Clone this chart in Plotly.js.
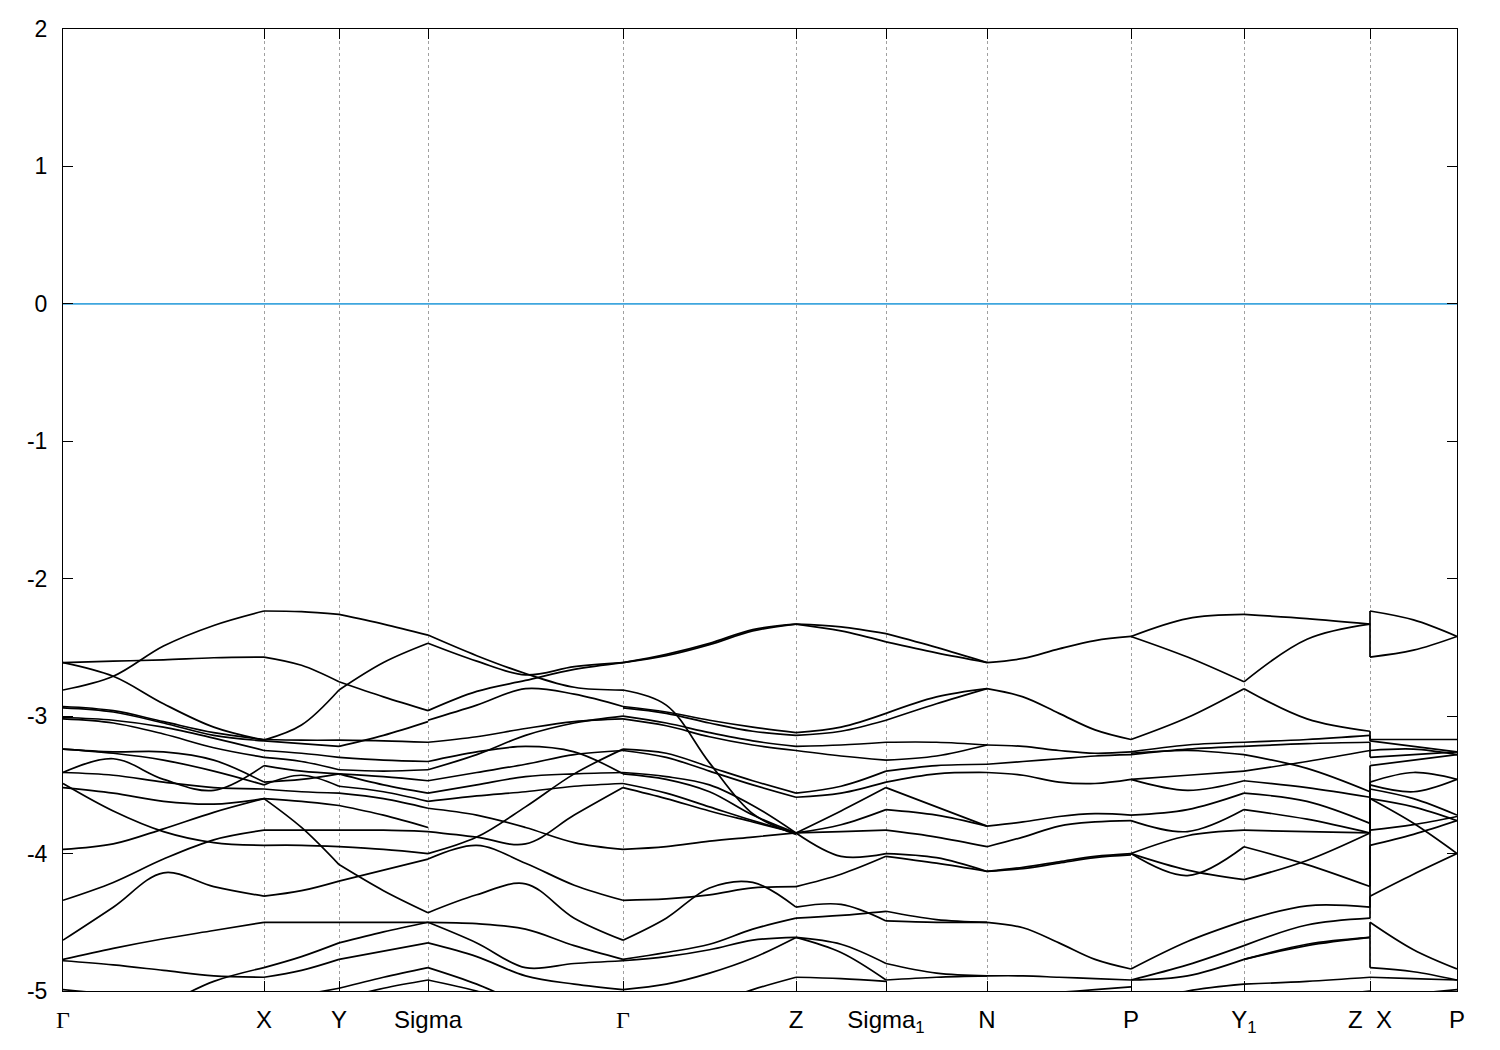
<!DOCTYPE html>
<html><head><meta charset="utf-8">
<script src="https://cdn.plot.ly/plotly-3.0.1.min.js"></script>
<style>html,body{margin:0;padding:0;background:#fff}#chart{width:1500px;height:1050px}</style>
</head><body><div id="chart"></div>
<script>
// High-symmetry points along the k-path (path distance, arbitrary units) and their labels
const kPoints = [0, 201, 276, 365, 560, 733, 823, 924, 1068, 1181, 1307, 1394];
const GAMMA = '<span style="font-family:Liberation Serif, DejaVu Serif, serif">Γ</span>';
const kLabels = [GAMMA, 'X', 'Y', 'Sigma', GAMMA, 'Z', 'Sigma<sub>1</sub>', 'N', 'P', 'Y<sub>1</sub>', 'Z\u00A0\u00A0X', 'P'];
const yTickValues = [-5, -4, -3, -2, -1, 0, 1, 2];
const yTickLabels = ['-5', '-4', '-3', '-2', '-1', '0', '1', '2'];
const fermiLevel = 0;

// Band energies (eV), each curve sampled evenly along its segment
const seg_GX = [
  [-2.81, -2.71, -2.49, -2.34, -2.235],
  [-2.61, -2.60, -2.59, -2.575, -2.57],
  [-2.61, -2.71, -2.91, -3.08, -3.175],
  [-2.93, -2.96, -3.04, -3.12, -3.17],
  [-2.94, -2.97, -3.05, -3.14, -3.18],
  [-3.01, -3.03, -3.08, -3.16, -3.25],
  [-3.02, -3.05, -3.13, -3.23, -3.30],
  [-3.24, -3.26, -3.26, -3.32, -3.48],
  [-3.24, -3.27, -3.32, -3.40, -3.50],
  [-3.41, -3.31, -3.46, -3.54, -3.36],
  [-3.41, -3.43, -3.48, -3.52, -3.53],
  [-3.49, -3.69, -3.84, -3.92, -3.94],
  [-3.52, -3.56, -3.62, -3.64, -3.60],
  [-3.97, -3.93, -3.82, -3.70, -3.60],
  [-4.34, -4.21, -4.04, -3.90, -3.83],
  [-4.63, -4.39, -4.14, -4.24, -4.31],
  [-4.77, -4.69, -4.62, -4.56, -4.50],
  [-4.78, -4.81, -4.85, -4.89, -4.90],
  [-5.40, -5.25, -5.10, -4.93, -4.83],
  [-4.99, -5.03, -5.10, -5.20, -5.30]
];
const seg_XY = [
  [-2.235, -2.24, -2.26],
  [-2.57, -2.63, -2.75],
  [-3.175, -3.065, -2.81],
  [-3.17, -3.175, -3.175],
  [-3.18, -3.20, -3.22],
  [-3.25, -3.27, -3.30],
  [-3.30, -3.33, -3.39],
  [-3.36, -3.40, -3.42],
  [-3.48, -3.46, -3.42],
  [-3.50, -3.43, -3.51],
  [-3.53, -3.55, -3.56],
  [-3.60, -3.62, -3.65],
  [-3.60, -3.81, -4.08],
  [-3.83, -3.83, -3.83],
  [-3.94, -3.94, -3.95],
  [-4.31, -4.27, -4.20],
  [-4.50, -4.50, -4.50],
  [-4.83, -4.75, -4.65],
  [-4.90, -4.85, -4.77],
  [-5.08, -5.03, -4.98]
];
const seg_YS = [
  [-2.26, -2.33, -2.41],
  [-2.81, -2.61, -2.47],
  [-2.75, -2.86, -2.96],
  [-3.175, -3.18, -3.19],
  [-3.22, -3.14, -3.04],
  [-3.30, -3.32, -3.33],
  [-3.39, -3.40, -3.39],
  [-3.42, -3.50, -3.56],
  [-3.42, -3.44, -3.47],
  [-3.51, -3.55, -3.62],
  [-3.56, -3.60, -3.67],
  [-3.65, -3.72, -3.81],
  [-4.08, -4.27, -4.43],
  [-3.83, -3.83, -3.84],
  [-3.95, -3.97, -4.00],
  [-4.20, -4.12, -4.04],
  [-4.50, -4.50, -4.50],
  [-4.65, -4.57, -4.50],
  [-4.77, -4.71, -4.65],
  [-4.98, -4.90, -4.83],
  [-5.06, -4.98, -4.92]
];
const seg_SG = [
  [-2.41, -2.56, -2.69, -2.79, -2.81],
  [-2.47, -2.60, -2.70, -2.64, -2.61],
  [-2.96, -2.82, -2.74, -2.66, -2.61],
  [-3.03, -2.92, -2.80, -2.84, -2.93],
  [-3.19, -3.15, -3.09, -3.04, -3.02],
  [-3.33, -3.26, -3.22, -3.26, -3.42],
  [-3.39, -3.28, -3.14, -3.05, -3.00],
  [-3.47, -3.41, -3.35, -3.28, -3.25],
  [-3.56, -3.50, -3.44, -3.42, -3.41],
  [-3.62, -3.58, -3.55, -3.51, -3.49],
  [-3.67, -3.72, -3.81, -3.92, -3.97],
  [-3.84, -3.88, -3.93, -3.72, -3.52],
  [-4.00, -3.88, -3.66, -3.42, -3.24],
  [-4.04, -3.94, -4.07, -4.23, -4.34],
  [-4.43, -4.30, -4.22, -4.47, -4.63],
  [-4.50, -4.51, -4.55, -4.67, -4.77],
  [-4.50, -4.65, -4.83, -4.80, -4.78],
  [-4.65, -4.75, -4.89, -4.95, -4.99],
  [-4.83, -4.95, -5.10, -5.20, -5.30],
  [-4.92, -5.00, -5.10, -5.20, -5.30]
];
const seg_GZ = [
  [-2.61, -2.55, -2.47, -2.37, -2.33],
  [-2.61, -2.56, -2.48, -2.38, -2.33],
  [-2.81, -2.92, -3.34, -3.71, -3.86],
  [-2.93, -2.97, -3.03, -3.08, -3.12],
  [-2.94, -2.98, -3.05, -3.11, -3.14],
  [-3.00, -3.05, -3.12, -3.18, -3.22],
  [-3.02, -3.07, -3.15, -3.21, -3.25],
  [-3.24, -3.27, -3.37, -3.47, -3.56],
  [-3.25, -3.30, -3.40, -3.50, -3.59],
  [-3.41, -3.44, -3.50, -3.65, -3.85],
  [-3.42, -3.46, -3.55, -3.72, -3.85],
  [-3.49, -3.56, -3.66, -3.76, -3.85],
  [-3.52, -3.60, -3.69, -3.77, -3.85],
  [-3.97, -3.95, -3.91, -3.88, -3.85],
  [-4.34, -4.33, -4.30, -4.25, -4.24],
  [-4.63, -4.47, -4.25, -4.21, -4.39],
  [-4.77, -4.72, -4.66, -4.55, -4.47],
  [-4.78, -4.75, -4.70, -4.63, -4.61],
  [-4.99, -4.95, -4.87, -4.76, -4.61],
  [-5.30, -5.20, -5.10, -4.99, -4.90]
];
const seg_ZS1 = [
  [-2.33, -2.35, -2.40],
  [-2.33, -2.38, -2.46],
  [-3.12, -3.08, -2.98],
  [-3.14, -3.11, -3.03],
  [-3.22, -3.21, -3.19],
  [-3.25, -3.29, -3.32],
  [-3.56, -3.51, -3.40],
  [-3.59, -3.56, -3.48],
  [-3.85, -3.69, -3.52],
  [-3.85, -3.79, -3.68],
  [-3.85, -3.84, -3.83],
  [-3.85, -4.02, -4.00],
  [-4.24, -4.15, -4.02],
  [-4.39, -4.37, -4.49],
  [-4.47, -4.45, -4.42],
  [-4.61, -4.66, -4.80],
  [-4.61, -4.72, -4.92],
  [-4.90, -4.91, -4.93]
];
const seg_S1N = [
  [-2.40, -2.50, -2.61],
  [-2.46, -2.54, -2.61],
  [-2.98, -2.86, -2.80],
  [-3.03, -2.91, -2.80],
  [-3.19, -3.19, -3.21],
  [-3.32, -3.29, -3.21],
  [-3.40, -3.36, -3.35],
  [-3.48, -3.42, -3.41],
  [-3.52, -3.66, -3.80],
  [-3.68, -3.72, -3.80],
  [-3.83, -3.88, -3.95],
  [-4.00, -4.03, -4.13],
  [-4.02, -4.07, -4.13],
  [-4.42, -4.48, -4.50],
  [-4.49, -4.50, -4.50],
  [-4.80, -4.87, -4.89],
  [-4.92, -4.90, -4.89]
];
const seg_NP = [
  [-2.61, -2.58, -2.51, -2.45, -2.42],
  [-2.80, -2.86, -2.98, -3.10, -3.17],
  [-3.21, -3.22, -3.25, -3.27, -3.26],
  [-3.35, -3.33, -3.31, -3.29, -3.28],
  [-3.41, -3.43, -3.48, -3.49, -3.46],
  [-3.80, -3.77, -3.73, -3.71, -3.72],
  [-3.95, -3.88, -3.80, -3.77, -3.76],
  [-4.13, -4.10, -4.06, -4.02, -4.00],
  [-4.13, -4.11, -4.07, -4.03, -4.01],
  [-4.50, -4.54, -4.65, -4.77, -4.84],
  [-4.89, -4.89, -4.90, -4.91, -4.92],
  [-5.05, -5.03, -5.01, -4.99, -4.97]
];
const seg_PY1 = [
  [-2.42, -2.29, -2.26],
  [-2.42, -2.57, -2.75],
  [-3.17, -3.01, -2.80],
  [-3.26, -3.21, -3.19],
  [-3.28, -3.24, -3.22],
  [-3.27, -3.25, -3.28],
  [-3.46, -3.43, -3.40],
  [-3.46, -3.54, -3.47],
  [-3.72, -3.68, -3.56],
  [-3.76, -3.84, -3.68],
  [-4.00, -3.87, -3.83],
  [-4.00, -4.16, -3.95],
  [-4.00, -4.12, -4.19],
  [-4.84, -4.64, -4.49],
  [-4.92, -4.81, -4.67],
  [-4.92, -4.89, -4.77],
  [-5.10, -5.00, -4.95]
];
const seg_Y1Z = [
  [-2.26, -2.29, -2.33],
  [-2.75, -2.44, -2.33],
  [-2.80, -3.02, -3.11],
  [-3.19, -3.17, -3.14],
  [-3.22, -3.20, -3.19],
  [-3.28, -3.38, -3.55],
  [-3.40, -3.33, -3.25],
  [-3.47, -3.52, -3.59],
  [-3.56, -3.62, -3.78],
  [-3.68, -3.75, -3.85],
  [-3.83, -3.84, -3.85],
  [-3.95, -4.08, -4.24],
  [-4.19, -4.05, -3.85],
  [-4.49, -4.38, -4.39],
  [-4.67, -4.52, -4.47],
  [-4.77, -4.66, -4.61],
  [-4.77, -4.67, -4.61],
  [-4.95, -4.93, -4.90],
  [-5.10, -5.05, -5.00]
];
const seg_XP = [
  [-2.235, -2.30, -2.42],
  [-2.57, -2.52, -2.42],
  [-3.17, -3.17, -3.17],
  [-3.18, -3.22, -3.26],
  [-3.25, -3.24, -3.28],
  [-3.30, -3.28, -3.26],
  [-3.36, -3.32, -3.28],
  [-3.48, -3.41, -3.46],
  [-3.50, -3.55, -3.46],
  [-3.53, -3.60, -3.72],
  [-3.60, -3.66, -3.76],
  [-3.60, -3.78, -4.00],
  [-3.83, -3.79, -3.73],
  [-3.94, -3.86, -3.76],
  [-4.31, -4.15, -4.00],
  [-4.50, -4.70, -4.84],
  [-4.83, -4.86, -4.92],
  [-4.90, -4.91, -4.92],
  [-5.05, -5.02, -4.99]
];

const segments = [
  [0, 1, seg_GX], [1, 2, seg_XY], [2, 3, seg_YS], [3, 4, seg_SG], [4, 5, seg_GZ],
  [5, 6, seg_ZS1], [6, 7, seg_S1N], [7, 8, seg_NP], [8, 9, seg_PY1], [9, 10, seg_Y1Z], [10, 11, seg_XP]
];

const traces = [];
segments.forEach(([a, b, curves]) => {
  const xs = [], ys = [];
  curves.forEach(c => {
    const n = c.length;
    c.forEach((e, i) => {
      xs.push(kPoints[a] + (kPoints[b] - kPoints[a]) * i / (n - 1));
      ys.push(e);
    });
    xs.push(null); ys.push(null);
  });
  traces.push({x: xs, y: ys, type: 'scatter', mode: 'lines',
    line: {color: '#000000', width: 1.7, shape: 'spline', smoothing: 1},
    hoverinfo: 'skip', showlegend: false, connectgaps: false});
});

// Discontinuity Z|X: connect band n at Z with band n at X (sorted by energy)
(function () {
  const zEnd = seg_Y1Z.map(c => c[c.length - 1]).sort((p, q) => q - p);
  const xStart = seg_XP.map(c => c[0]).sort((p, q) => q - p);
  const n = Math.min(zEnd.length, xStart.length);
  const xs = [], ys = [];
  for (let i = 0; i < n; i++) {
    xs.push(kPoints[10], kPoints[10], null);
    ys.push(zEnd[i], xStart[i], null);
  }
  traces.push({x: xs, y: ys, type: 'scatter', mode: 'lines',
    line: {color: '#000000', width: 1.7}, hoverinfo: 'skip', showlegend: false});
})();

// Fermi level
traces.push({x: [kPoints[0], kPoints[kPoints.length - 1]], y: [fermiLevel, fermiLevel],
  type: 'scatter', mode: 'lines', line: {color: '#3fa6de', width: 1.8},
  hoverinfo: 'skip', showlegend: false});

const xfont = {family: 'Liberation Sans, Arial, sans-serif', size: 24, color: '#000000'};
const yfont = {family: 'Liberation Sans, Arial, sans-serif', size: 23, color: '#000000'};
const layout = {
  width: 1500, height: 1050,
  margin: {l: 63, r: 43, t: 29, b: 59, pad: 0},
  paper_bgcolor: '#ffffff', plot_bgcolor: '#ffffff',
  showlegend: false,
  xaxis: {
    range: [kPoints[0], kPoints[kPoints.length - 1]],
    tickmode: 'array', tickvals: kPoints, ticktext: kLabels,
    ticks: 'inside', ticklen: 10, tickwidth: 1, tickcolor: '#000000',
    showline: true, linecolor: '#000000', linewidth: 1, mirror: 'ticks',
    showgrid: true, gridcolor: '#a0a0a0', gridwidth: 1, griddash: 'dot',
    zeroline: false, tickfont: xfont, ticklabelstandoff: 7
  },
  yaxis: {
    range: [-5, 2],
    tickmode: 'array', tickvals: yTickValues, ticktext: yTickLabels,
    ticks: 'inside', ticklen: 10, tickwidth: 1, tickcolor: '#000000',
    showline: true, linecolor: '#000000', linewidth: 1, mirror: 'ticks',
    showgrid: false, zeroline: false, tickfont: yfont, ticklabelstandoff: 10
  }
};
Plotly.newPlot('chart', traces, layout, {displayModeBar: false, staticPlot: true});
</script>
</body></html>
